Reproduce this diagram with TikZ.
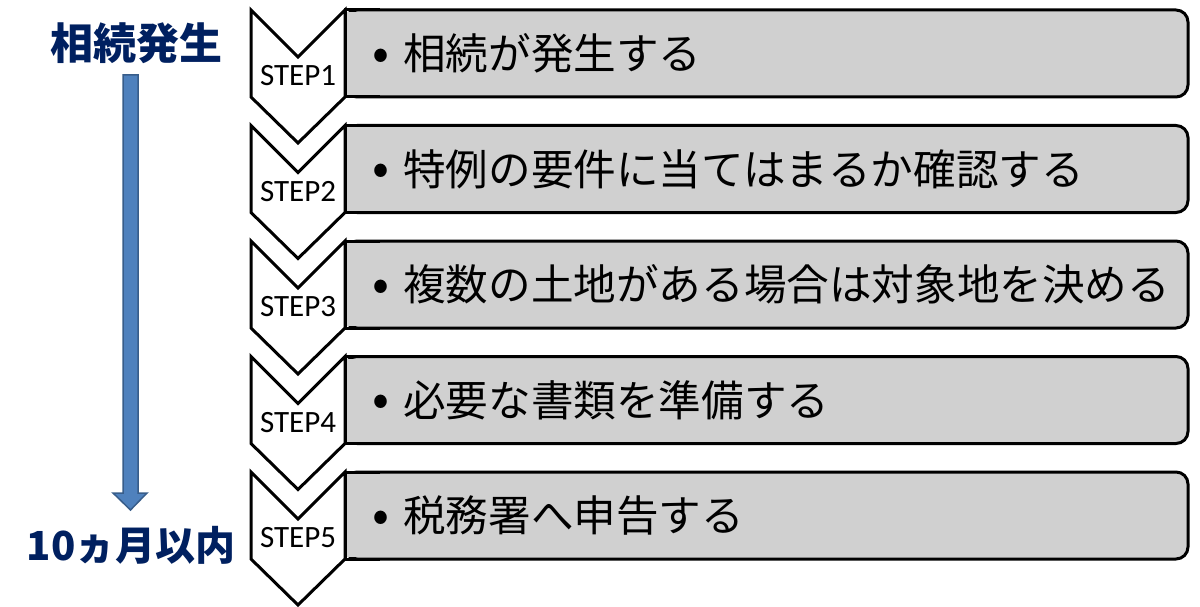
\documentclass[tikz,border=0pt]{standalone}
\usepackage{fontspec}
\setmainfont{Carlito}
\newfontfamily\jp{Noto Sans CJK JP}
\definecolor{navy}{HTML}{002060}
\definecolor{boxgray}{HTML}{D0D0D0}
\definecolor{arrowfill}{HTML}{4F81BD}
\definecolor{arrowline}{HTML}{385D8A}
\tikzset{
  boxshape/.style={draw=black, fill=boxgray, line width=3pt},
  chevshape/.style={draw=black, fill=white, line width=3pt, line join=miter},
  steplabel/.style={inner sep=0pt, font=\fontsize{31}{32}\selectfont},
  boxtext/.style={inner sep=0pt, anchor=west, font=\jp\fontsize{42.6}{44}\selectfont},
  bulletmark/.style={inner sep=0pt, font=\jp\fontsize{50}{52}\selectfont},
  sidetitle/.style={inner sep=0pt, text=navy},
  bigarrow/.style={fill=arrowfill, draw=arrowline, line width=1.5pt, line join=miter}
}
\begin{document}
\begin{tikzpicture}[x=1pt,y=-1pt]
\useasboundingbox (0,0) rectangle (1200,607);
% left timeline
\node[sidetitle, font=\jp\bfseries\fontsize{43}{45}\selectfont] (start) at (136,43) {相続発生};
\node[sidetitle, font=\jp\bfseries\fontsize{40}{42}\selectfont] (limit) at (131,545) {10ヵ月以内};
\draw[bigarrow] (123,75) -- (138,75) -- (138,493) -- (147,493) -- (130.5,510) -- (113,493) -- (123,493) -- cycle;
% steps
\foreach \i/\txt in {1/相続が発生する,2/特例の要件に当てはまるか確認する,3/複数の土地がある場合は対象地を決める,4/必要な書類を準備する,5/税務署へ申告する}{
  \pgfmathsetmacro{\t}{10+115.5*(\i-1)}
  \pgfmathsetmacro{\b}{\t+87}
  \pgfmathsetmacro{\m}{(\t+\b)/2}
  \draw[boxshape, rounded corners=12pt] (345,\t) rectangle (1188,\b);
  \fill[boxgray] (346,\t+2) rectangle (380,\b-2);
  \draw[black, line width=3pt] (380,\t) -- (345,\t) -- (345,\b) -- (380,\b);
  \draw[chevshape] (251,\t) -- (298,\t+47) -- (345,\t) -- (345,\b) -- (298,\b+46) -- (251,\b) -- cycle;
  \node[steplabel] (step\i) at (298,\b-21) {STEP\i};
  \node[bulletmark] (bul\i) at (381,\m+6) {•};
  \node[boxtext] (txt\i) at (403,\m) {\txt};
}
\end{tikzpicture}
\end{document}
